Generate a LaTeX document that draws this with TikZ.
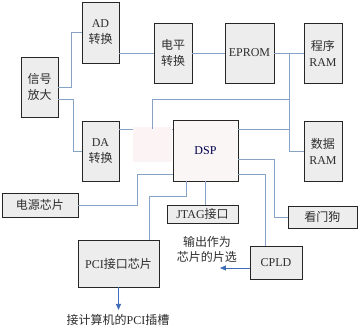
\documentclass[tikz,border=0pt]{standalone}
\usepackage{fontspec}
\setmainfont{Liberation Serif}
\newfontfamily\cjk{Noto Sans CJK SC}
\newcommand{\zh}[1]{{\cjk #1}}
\usetikzlibrary{arrows.meta}
\definecolor{conncol}{HTML}{86A3C6}
\definecolor{arrcol}{HTML}{3F6DB8}
\definecolor{boxfill}{HTML}{EDEDED}
\definecolor{dspfill}{HTML}{FAF6F6}
\definecolor{pinkhaze}{HTML}{FCF4F4}
\definecolor{txt}{HTML}{2E2E2E}
\tikzset{
  box/.style={draw=black!85, line width=0.9pt, fill=boxfill, inner sep=0pt, outer sep=0pt,
    align=center, text=txt, font=\fontsize{12pt}{16pt}\selectfont},
  conn/.style={draw=conncol, line width=0.9pt},
  arr/.style={draw=arrcol, line width=0.9pt, -{Triangle[length=6pt,width=5pt]}},
  lbl/.style={text=txt, font=\fontsize{12pt}{15pt}\selectfont, align=center, inner sep=0pt}
}
\begin{document}
\begin{tikzpicture}[x=1pt,y=-1pt]
\useasboundingbox (0,0) rectangle (360,331);
\fill[white] (0,0) rectangle (360,331);
% nodes
\node[box, minimum width=37pt, minimum height=60pt] (sig) at (39.5,87) {\zh{信号}\\\zh{放大}};
\node[box, minimum width=37pt, minimum height=61pt] (ad) at (100.5,32.5) {AD\\\zh{转换}};
\node[box, minimum width=38pt, minimum height=60pt] (dp) at (173,53) {\zh{电平}\\\zh{转换}};
\node[box, minimum width=49pt, minimum height=60pt] (eprom) at (249.5,53) {EPROM};
\node[box, minimum width=38pt, minimum height=60pt] (pram) at (323,53) {\zh{程序}\\RAM};
\node[box, minimum width=38pt, minimum height=60pt] (dram) at (323,151) {\zh{数据}\\RAM};
\node[box, minimum width=37pt, minimum height=60pt] (da) at (100.5,151) {DA\\\zh{转换}};
\node[box, fill=dspfill, text=blue!30!black, minimum width=65pt, minimum height=61pt] (dsp) at (205.5,150.5) {DSP};
\node[box, minimum width=76pt, minimum height=24pt] (power) at (40,205) {\zh{电源芯片}};
\node[box, minimum width=71pt, minimum height=18pt] (jtag) at (202.5,214) {JTAG\zh{接口}};
\node[box, minimum width=69pt, minimum height=22pt] (wd) at (322.5,217) {\zh{看门狗}};
\node[box, minimum width=81pt, minimum height=47pt] (pci) at (118.5,263.5) {PCI\zh{接口芯片}};
\node[box, minimum width=52pt, minimum height=33pt] (cpld) at (276,262.5) {CPLD};
% labels
\node[lbl] (cs) at (207,249.5) {\zh{输出作为}\\\zh{芯片的片选}};
\node[lbl] (slot) at (118,320) {\zh{接计算机的}PCI\zh{插槽}};
% bus coordinates
\coordinate (b1) at (289,53);
\coordinate (b3) at (289,99);
\coordinate (j1) at (152,99);
\coordinate (slotend) at (118.5,310);
\coordinate (csend) at (220,268);
% connectors
\draw[conn] (sig.east) -- (71,87) |- (ad.west);
\draw[conn] ([yshift=-12pt]sig.east) -- (73,99) |- (da.west);
\draw[conn] (dp.west -| ad.east) -- (dp.west);
\draw[conn] (dp.east) -- (eprom.west);
\draw[conn] (eprom.east) -- (pram.west);
\draw[conn] (b1) |- (dram.west);
\draw[conn] ([yshift=-8pt]da.north east) coordinate (p) -- (p -| dsp.west);
\draw[conn] ([yshift=-9pt]dsp.north east) coordinate (q) -- (q -| b1);
\draw[conn] ([yshift=-39pt]dsp.north east) -- (274,159) |- (wd.west);
\draw[conn] ([yshift=-54pt]dsp.north east) -| ([xshift=-11pt]cpld.north);
\draw[conn] (dsp.south) -- (dsp.south |- jtag.north);
\draw[conn] ([xshift=-19.5pt]dsp.south) -- (186,196) -| ([xshift=30.5pt]pci.north);
\draw[conn] ([yshift=-54pt]dsp.north west) -- (137,174) |- (power.east);
% haze over the DA-DSP link
\fill[pinkhaze] (133,127.5) rectangle (172.4,162);
\draw[conn] (b3) -- (j1) -- (152,129);
% arrows
\draw[arr] (pci.south) -- (slotend);
\draw[arr] ([yshift=-22pt]cpld.north west) -- (csend);
\end{tikzpicture}
\end{document}
